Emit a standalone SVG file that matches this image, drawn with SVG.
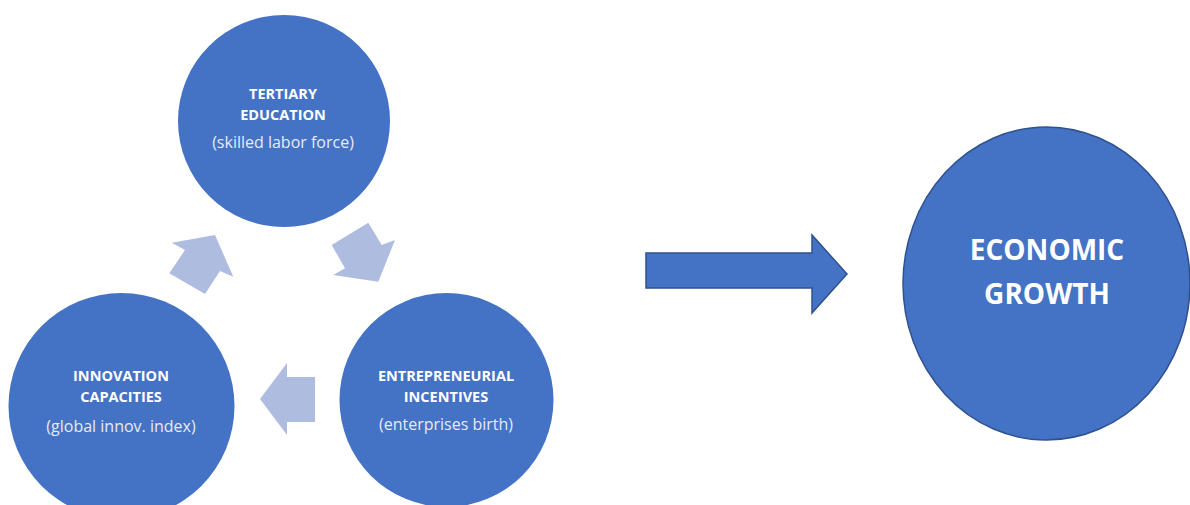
<svg xmlns="http://www.w3.org/2000/svg" width="1190" height="505" viewBox="0 0 1190 505">
<style>
.node{fill:#4472C4}
.t{font-family:"Open Sans","Liberation Sans",sans-serif;fill:#FFFFFF;text-anchor:middle}
.b{font-weight:bold;font-size:14.5px}
.s{font-size:16px;fill:#E6EBF5}
.big{font-weight:bold;font-size:28px}
.cyc{fill:#AEBCDF}
</style>
<rect width="1190" height="505" fill="#FFFFFF"/>
<g id="tertiary">
<circle class="node" cx="284" cy="121" r="106"/>
<text class="t b" x="283" y="99">TERTIARY</text>
<text class="t b" x="283" y="120">EDUCATION</text>
<text class="t s" x="283" y="148">(skilled labor force)</text>
</g>
<g id="innovation">
<circle class="node" cx="121.5" cy="406" r="113"/>
<text class="t b" x="121" y="381">INNOVATION</text>
<text class="t b" x="121" y="402">CAPACITIES</text>
<text class="t s" x="121" y="432">(global innov. index)</text>
</g>
<g id="entrepreneurial">
<circle class="node" cx="446.5" cy="400" r="107"/>
<text class="t b" x="446" y="381">ENTREPRENEURIAL</text>
<text class="t b" x="446" y="402">INCENTIVES</text>
<text class="t s" x="446" y="430">(enterprises birth)</text>
</g>
<g id="economic">
<ellipse class="node" cx="1046.5" cy="283.5" rx="143.5" ry="156.5" stroke="#2F528F" stroke-width="1.5"/>
<text class="t big" x="1047" y="260">ECONOMIC</text>
<text class="t big" x="1047" y="304">GROWTH</text>
</g>
<g id="connectors">
<polygon class="cyc" points="169.3,273.3 185,250 171.7,242.7 215,235 233.3,276.7 220,271 205,294"/>
<polygon class="cyc" points="331.7,245 368.3,222.7 381.7,245 395,240 378.3,281.7 333.3,275 345,268.3"/>
<polygon class="cyc" points="315,377 287,377 287,363 260,399 287,435 287,422 315,422"/>
<polygon points="646,253 812,253 812,235 847,274 812,313 812,288 646,288" fill="#4472C4" stroke="#2F528F" stroke-width="1.5"/>
</g>
</svg>
